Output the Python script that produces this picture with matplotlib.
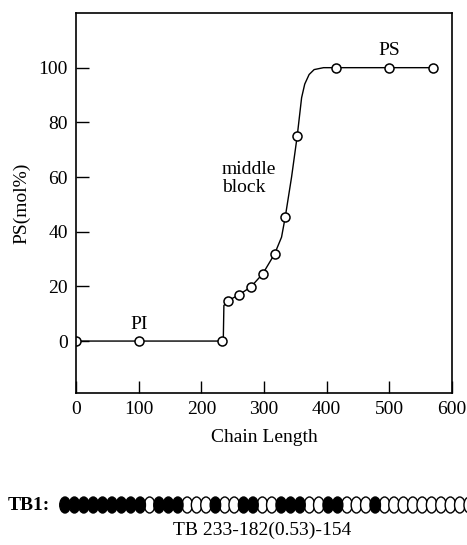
import matplotlib

matplotlib.use("Agg")
import matplotlib.pyplot as plt
from matplotlib.patches import Ellipse

plt.rcParams["font.family"] = ["Liberation Serif", "DejaVu Serif"]

# measured composition points (open circles)
chain_length = [0, 100, 233, 242, 260, 279, 298, 317, 334, 353, 415, 500, 570]
ps_content = [0, 0, 0, 14.7, 16.9, 19.8, 24.6, 31.9, 45.5, 75, 100, 100, 100]

# smooth guide curve
curve_x = [0, 233, 235, 236, 242, 260, 279, 298, 317, 328, 334, 344, 353,
           360, 365, 372, 380, 395, 415, 500, 570]
curve_y = [0, 0, 0, 13, 14.7, 16.9, 19.8, 24.6, 31.9, 38, 45.5, 60, 75,
           89, 94, 97.5, 99.3, 100, 100, 100, 100]

x_ticks = [0, 100, 200, 300, 400, 500, 600]
y_ticks = [0, 20, 40, 60, 80, 100]

# bead sequence below the chart: F = filled, O = open
bead_sequence = "FFFFFFFFFO" "FFFOOOFOOFFOOFFFOOFFOOOF" "OOOOOOOOOO"

W, H = 467, 545
fig = plt.figure(figsize=(W / 100, H / 100), dpi=100)

left, right, top, bottom = 76, 452, 13, 393
ax = fig.add_axes([left / W, 1 - bottom / H, (right - left) / W, (bottom - top) / H])
ax.plot(curve_x, curve_y, color="black", lw=1.0)
ax.plot(chain_length, ps_content, linestyle="none", marker="o", ms=6.5,
        mfc="white", mec="black", mew=1.1)
ax.set_xlim(0, 600)
ax.set_ylim(-19, 120)
ax.set_xticks(x_ticks)
ax.set_yticks(y_ticks)
ax.tick_params(direction="in", length=9, width=1, labelsize=14, pad=6,
               top=False, right=False)
for spine in ax.spines.values():
    spine.set_linewidth(1.2)
ax.set_xlabel("Chain Length", fontsize=14, labelpad=8)
ax.set_ylabel("PS(mol%)", fontsize=14, labelpad=6)

ax.text(100, 3, "PI", fontsize=14, ha="center", va="bottom")
ax.text(500, 103, "PS", fontsize=14, ha="center", va="bottom")
ax.text(233, 66, "middle\nblock", fontsize=14, ha="left", va="top", linespacing=1.1)

# bead row
bead_ax = fig.add_axes([0, (H - 520) / H, 1, 30 / H])
bead_ax.set_xlim(0, W)
bead_ax.set_ylim(0, 30)
bead_ax.axis("off")
for i, kind in enumerate(bead_sequence):
    fill = "black" if kind == "F" else "white"
    bead_ax.add_patch(Ellipse((65 + i * 9.4, 15), 10.5, 16, facecolor=fill,
                              edgecolor="black", lw=1.0, zorder=2 if kind == "F" else 1))
bead_ax.text(8, 15, "TB1:", fontsize=14, fontweight="bold", ha="left", va="center")

fig.text(262 / W, 1 - 530 / H, "TB 233-182(0.53)-154", fontsize=14,
         ha="center", va="center")

fig.savefig("out.png", dpi=100)
